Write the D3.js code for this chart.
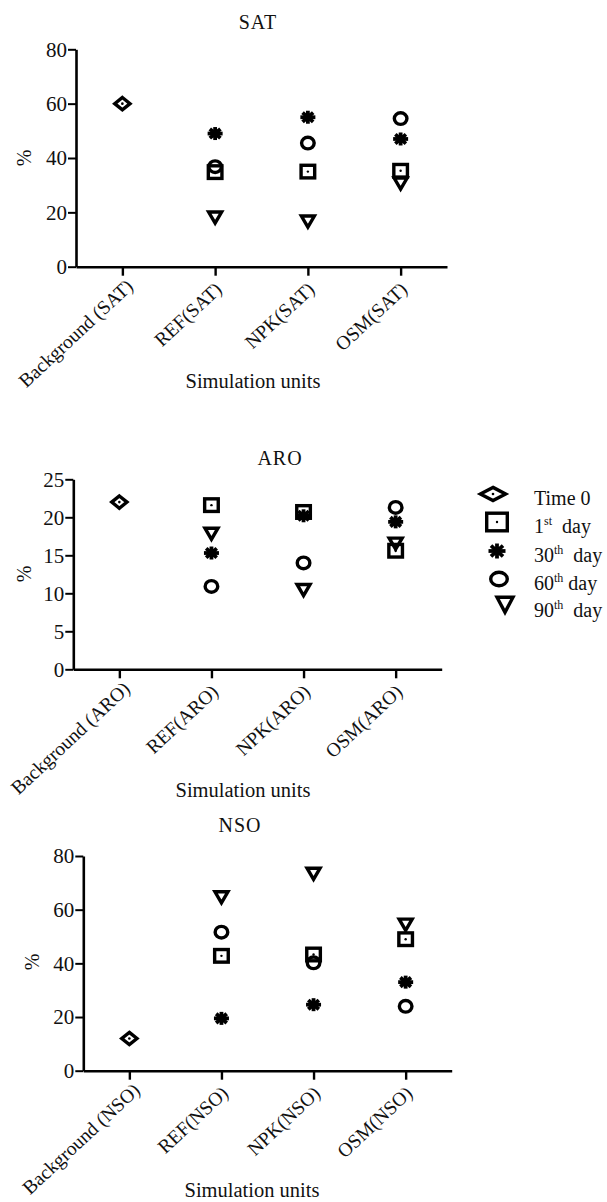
<!DOCTYPE html>
<html>
<head>
<meta charset="utf-8">
<script src="https://cdn.jsdelivr.net/npm/d3@7"></script>
<style>
  html, body { margin: 0; padding: 0; background: #fff; }
  svg { display: block; }
  text { font-family: "Liberation Serif", "Times New Roman", serif; fill: #111; }
</style>
</head>
<body>
<svg id="chart" width="607" height="1202"></svg>
<script>
// ---------------- DATA ----------------
const seriesNames = ["Time 0", "1st day", "30th day", "60th day", "90th day"];

const satCategories = ["Background (SAT)", "REF(SAT)", "NPK(SAT)", "OSM(SAT)"];
const satTime0 = [60, null, null, null];
const satDay1  = [null, 34.8, 35, 35.3];
const satDay30 = [null, 49, 55, 47];
const satDay60 = [null, 36.8, 45.5, 54.5];
const satDay90 = [null, 18, 16.5, 30.5];
const satTicks = [0, 20, 40, 60, 80];

const aroCategories = ["Background (ARO)", "REF(ARO)", "NPK(ARO)", "OSM(ARO)"];
const aroTime0 = [22, null, null, null];
const aroDay1  = [null, 21.6, 20.7, 15.6];
const aroDay30 = [null, 15.3, 20.2, 19.4];
const aroDay60 = [null, 10.9, 14.0, 21.3];
const aroDay90 = [null, 17.8, 10.4, 16.5];
const aroTicks = [0, 5, 10, 15, 20, 25];

const nsoCategories = ["Background (NSO)", "REF(NSO)", "NPK(NSO)", "OSM(NSO)"];
const nsoTime0 = [12, null, null, null];
const nsoDay1  = [null, 42.8, 43.3, 49];
const nsoDay30 = [null, 19.5, 24.6, 33];
const nsoDay60 = [null, 51.6, 40.2, 24];
const nsoDay90 = [null, 64.5, 73.3, 54.3];
const nsoTicks = [0, 20, 40, 60, 80];

// ---------------- LAYOUT ----------------
const panels = [
  { title: "SAT", cats: satCategories, series: [satTime0, satDay1, satDay30, satDay60, satDay90], ticks: satTicks, max: 80,
    x0: 76, x1: 447, yTop: 49.3, yBot: 266.7, titleX: 258, titleY: 29, ylabX: 31, ylabY: 158, xlabX: 253, xlabY: 388 },
  { title: "ARO", cats: aroCategories, series: [aroTime0, aroDay1, aroDay30, aroDay60, aroDay90], ticks: aroTicks, max: 25,
    x0: 73.3, x1: 441.7, yTop: 479.3, yBot: 669.3, titleX: 280, titleY: 465, ylabX: 31, ylabY: 574, xlabX: 243, xlabY: 797 },
  { title: "NSO", cats: nsoCategories, series: [nsoTime0, nsoDay1, nsoDay30, nsoDay60, nsoDay90], ticks: nsoTicks, max: 80,
    x0: 83.3, x1: 451.7, yTop: 856, yBot: 1070.7, titleX: 240, titleY: 832, ylabX: 39, ylabY: 962, xlabX: 252, xlabY: 1197 }
];

const symbolTypes = ["diamond", "square", "asterisk", "circle", "triangle"];

const svg = d3.select("#chart");

const plotSizes = { diamond: [20, 17], square: [17, 16], asterisk: [17, 15], circle: [16, 15], triangle: [17, 15] };

function drawSymbol(g, type, cx, cy, sizes) {
  const [w, h] = sizes[type];
  const grp = g.append("g").attr("transform", `translate(${cx},${cy})`);
  const sw = 3.4;
  if (type === "diamond") {
    const a = sw * 0.7;
    grp.append("path").attr("d", `M0,${-h/2 + a}L${w/2 - a},0L0,${h/2 - a}L${-w/2 + a},0Z`)
      .attr("fill", "none").attr("stroke", "#000").attr("stroke-width", sw).attr("stroke-linejoin", "miter");
    grp.append("circle").attr("r", 1.3).attr("fill", "#000");
  } else if (type === "square") {
    grp.append("rect").attr("x", -w/2 + sw/2).attr("y", -h/2 + sw/2).attr("width", w - sw).attr("height", h - sw)
      .attr("fill", "none").attr("stroke", "#000").attr("stroke-width", sw);
    grp.append("circle").attr("r", 1.2).attr("fill", "#000");
  } else if (type === "asterisk") {
    const rx = w/2 - 1, ry = h/2 - 1;
    [0, 45, 90, 135].forEach(a => {
      const r = a * Math.PI / 180;
      grp.append("line")
        .attr("x1", -rx * Math.cos(r)).attr("y1", -ry * Math.sin(r))
        .attr("x2", rx * Math.cos(r)).attr("y2", ry * Math.sin(r))
        .attr("stroke", "#000").attr("stroke-width", 3.8);
    });
    grp.append("circle").attr("r", 4).attr("fill", "#000");
  } else if (type === "circle") {
    grp.append("ellipse").attr("rx", w/2 - sw/2).attr("ry", h/2 - sw/2)
      .attr("fill", "none").attr("stroke", "#000").attr("stroke-width", sw);
  } else if (type === "triangle") {
    grp.append("path").attr("d", `M${-w/2 + 2},${-h/2 + 1.7}L${w/2 - 2},${-h/2 + 1.7}L0,${h/2 - 2.2}Z`)
      .attr("fill", "none").attr("stroke", "#000").attr("stroke-width", sw).attr("stroke-linejoin", "miter");
  }
}

panels.forEach(p => {
  const g = svg.append("g");
  const x = d3.scalePoint().domain(p.cats).range([p.x0, p.x1]).padding(0.5);
  const y = d3.scaleLinear().domain([0, p.max]).range([p.yBot, p.yTop]);

  // y axis
  const ya = g.append("g").attr("transform", `translate(${p.x0},0)`)
    .call(d3.axisLeft(y).tickValues(p.ticks).tickSize(8).tickSizeOuter(0).tickPadding(1));
  ya.select(".domain").attr("stroke", "#000").attr("stroke-width", 2.6);
  ya.selectAll(".tick line").attr("stroke", "#000").attr("stroke-width", 2);
  ya.selectAll(".tick text").style("font-size", "21px").style("font-family", "Liberation Serif").attr("fill", "#111");

  // x axis
  const xa = g.append("g").attr("transform", `translate(0,${p.yBot})`)
    .call(d3.axisBottom(x).tickSize(9).tickSizeOuter(0));
  xa.select(".domain").attr("stroke", "#000").attr("stroke-width", 2.6);
  xa.selectAll(".tick line").attr("stroke", "#000").attr("stroke-width", 2.4);
  xa.selectAll(".tick text").remove();
  p.cats.forEach((c, i) => {
    const dx = i === 0 ? 12 : 8;
    const dy = i === 0 ? 21 : 24;
    g.append("text")
      .attr("transform", `translate(${x(c) + dx},${p.yBot + dy}) rotate(-43)`)
      .attr("text-anchor", "end")
      .style("font-size", "19.5px")
      .text(c);
  });

  // titles
  g.append("text").attr("x", p.titleX).attr("y", p.titleY).attr("text-anchor", "middle")
    .style("font-size", "20px").style("letter-spacing", "1px").text(p.title);
  g.append("text").attr("transform", `translate(${p.ylabX},${p.ylabY}) rotate(-90)`).attr("text-anchor", "middle")
    .style("font-size", "20px").text("%");
  g.append("text").attr("x", p.xlabX).attr("y", p.xlabY).attr("text-anchor", "middle")
    .style("font-size", "20.5px").text("Simulation units");

  // points
  p.series.forEach((vals, si) => {
    vals.forEach((v, ci) => {
      if (v == null) return;
      drawSymbol(g, symbolTypes[si], x(p.cats[ci]), y(v), plotSizes);
    });
  });
});

// ---------------- LEGEND ----------------
const legendSizes = { diamond: [30, 18], square: [24, 21], asterisk: [19, 17], circle: [20, 17], triangle: [20, 19] };
const legendMarkerX = [493, 497, 497, 499, 505];
const legendMarkerY = [494, 522, 551, 579, 605];
const legendTextY = [505, 533, 562, 590, 617];
const legendLabels = [
  { main: "Time 0", sup: null, rest: "" },
  { main: "1", sup: "st", rest: "\u00a0\u00a0day" },
  { main: "30", sup: "th", rest: "\u00a0\u00a0day" },
  { main: "60", sup: "th", rest: "\u00a0day" },
  { main: "90", sup: "th", rest: "\u00a0\u00a0day" }
];
const lg = svg.append("g");
seriesNames.forEach((name, i) => {
  drawSymbol(lg, symbolTypes[i], legendMarkerX[i], legendMarkerY[i], legendSizes);
  const t = lg.append("text").attr("x", 534).attr("y", legendTextY[i]).style("font-size", "20px");
  const L = legendLabels[i];
  t.append("tspan").text(L.main);
  if (L.sup) {
    t.append("tspan").attr("dy", -8).style("font-size", "12px").text(L.sup);
    t.append("tspan").attr("dy", 8).text(L.rest);
  }
  t.append("title").text(name);
});
</script>
</body>
</html>
